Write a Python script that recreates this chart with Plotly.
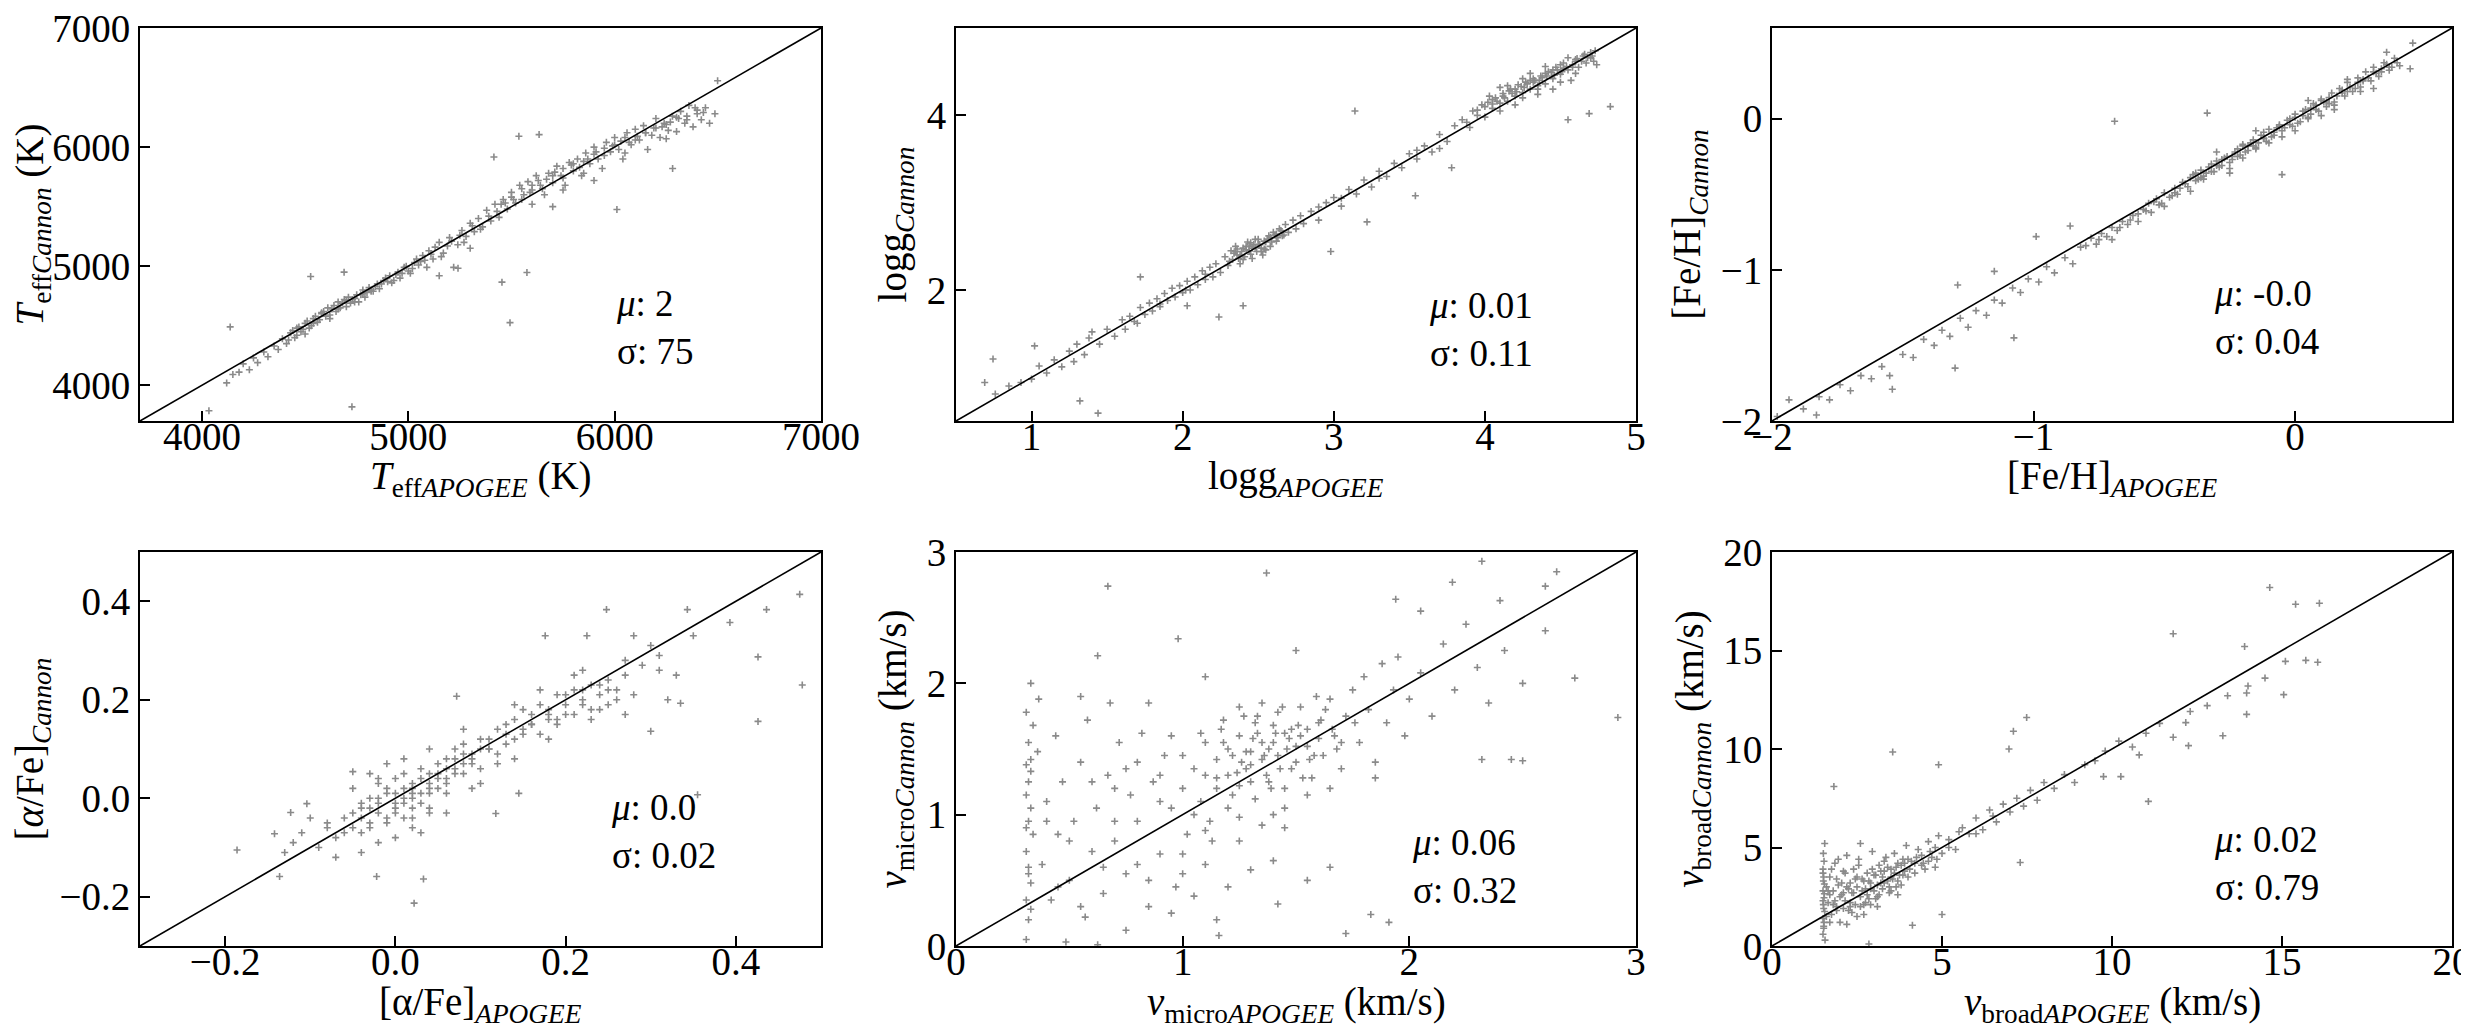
import plotly.graph_objects as go

# ---- data (APOGEE on x, Cannon on y) ----

teff_apogee = [
    4120, 4150, 4180, 4200, 4230, 4250, 4270, 4300, 4320, 4350,
    4370, 4390, 4410, 4430, 4450, 4470, 4480, 4500, 4520, 4540,
    4560, 4580, 4600, 4610, 4630, 4650, 4660, 4680, 4700, 4710,
    4730, 4750, 4760, 4780, 4800, 4810, 4830, 4850, 4860, 4880,
    4900, 4910, 4930, 4950, 4960, 4980, 5000, 5010, 5030, 5050,
    5070, 5090, 5100, 5120, 5150, 5170, 5200, 5220, 5240, 5260,
    5280, 5300, 5320, 5340, 5360, 5380, 5400, 5420, 5440, 5460,
    5480, 5500, 5520, 5540, 5560, 5580, 5600, 5620, 5640, 5660,
    5680, 5700, 5720, 5740, 5760, 5780, 5800, 5820, 5840, 5860,
    5880, 5900, 5920, 5940, 5960, 5980, 6000, 6020, 6040, 6060,
    6080, 6100, 6120, 6140, 6160, 6180, 6200, 6220, 6240, 6260,
    6280, 6300, 6320, 6340, 6360, 6380, 6400, 6420, 6440, 6460,
    4137, 4034, 4727, 5493, 5575, 5454, 4527, 4689, 6011, 5536,
    5634, 5415, 6281, 6486, 6499, 5241, 5150, 5300, 5700, 5900,
    4420, 4440, 4460, 4490, 4510, 4530, 4550, 4570, 4590, 4620,
    4640, 4670, 4690, 4720, 4740, 4770, 4790, 4820, 4840, 4870,
    4890, 4920, 4940, 4970, 4990, 5020, 5040, 5060, 5080, 5110,
    5130, 5160, 5190, 5210, 5250, 5270, 5310, 5350, 5390, 5430,
    5470, 5510, 5550, 5590, 5630, 5670, 5710, 5750, 5790, 5830,
    5870, 5910, 5950, 5990, 6030, 6070, 6110, 6150, 6190, 6230,
    6270, 6310, 6350, 6390, 6430, 5600, 5750, 5850, 6050, 6250,
    4460, 4500, 4540, 4580, 4620, 4660, 4700, 4740, 4780, 4820,
    5450, 5500, 5550, 5600, 5650, 5700, 5750, 5800, 5850, 5900,
    5950, 6000, 6050, 6100, 6150, 6200, 6250, 6300, 6350, 6400,
]
teff_cannon = [
    4020, 4090, 4110, 4180, 4130, 4230, 4190, 4280, 4240, 4330,
    4300, 4390, 4350, 4440, 4400, 4490, 4450, 4520, 4480, 4560,
    4530, 4610, 4580, 4650, 4640, 4620, 4700, 4690, 4660, 4740,
    4720, 4760, 4700, 4800, 4780, 4820, 4790, 4850, 4810, 4880,
    4870, 4920, 4880, 4950, 4900, 4990, 4960, 4940, 5030, 5010,
    5090, 4990, 5130, 5060, 5200, 5110, 5240, 4990, 5180, 5300,
    5250, 5360, 5290, 5400, 5330, 5470, 5380, 5520, 5410, 5560,
    5480, 5620, 5530, 5680, 5600, 5710, 5640, 5760, 5680, 5600,
    5780, 5700, 5840, 5760, 5680, 5870, 5800, 5900, 5760, 5950,
    5860, 6000, 5900, 5820, 6040, 5960, 6080, 5980, 5900, 6120,
    6020, 6150, 6060, 6180, 5980, 6100, 6240, 6080, 6200, 6140,
    6260, 6130, 6300, 6200, 6350, 6170, 6280, 6230, 6330, 6200,
    4490, 3786, 3819, 4526, 4947, 4866, 4913, 4950, 5476, 6091,
    6105, 5917, 5820, 6280, 6557, 4983, 4920, 5150, 5500, 5720,
    4380, 4460, 4420, 4470, 4540, 4500, 4580, 4550, 4620, 4590,
    4670, 4650, 4720, 4690, 4730, 4760, 4740, 4800, 4830, 4850,
    4900, 4860, 4930, 4940, 5000, 4980, 5060, 5040, 5050, 5100,
    5160, 5080, 5170, 5210, 5260, 5200, 5340, 5310, 5420, 5460,
    5530, 5560, 5650, 5620, 5720, 5730, 5790, 5820, 5850, 5830,
    5900, 5960, 5930, 6010, 6050, 6040, 6090, 6120, 6160, 6170,
    6210, 6240, 6260, 6330, 6290, 5520, 5640, 5780, 5950, 6070,
    4480, 4430, 4520, 4600, 4560, 4640, 4710, 4700, 4770, 4790,
    5520, 5580, 5560, 5680, 5650, 5760, 5740, 5860, 5880, 5940,
    5990, 6020, 6080, 6060, 6120, 6160, 6190, 6250, 6230, 6310,
]

logg_apogee = [
    1.40, 1.45, 1.50, 1.55, 1.60, 1.62, 1.65, 1.70, 1.72, 1.75,
    1.78, 1.80, 1.83, 1.85, 1.88, 1.90, 1.93, 1.95, 1.98, 2.00,
    2.03, 2.05, 2.08, 2.10, 2.13, 2.15, 2.18, 2.20, 2.22, 2.25,
    2.28, 2.30, 2.32, 2.33, 2.35, 2.36, 2.38, 2.40, 2.41, 2.43,
    2.44, 2.46, 2.47, 2.49, 2.50, 2.52, 2.53, 2.55, 2.57, 2.58,
    2.60, 2.62, 2.64, 2.66, 2.68, 2.70, 2.73, 2.75, 2.78, 2.80,
    2.85, 2.90, 2.95, 3.00, 3.05, 3.10, 3.15, 3.20, 3.25, 3.30,
    3.35, 3.40, 3.45, 3.50, 3.55, 3.60, 3.65, 3.70, 3.75, 3.80,
    3.85, 3.90, 3.92, 3.95, 3.98, 4.00, 4.02, 4.05, 4.07, 4.10,
    4.12, 4.15, 4.17, 4.20, 4.22, 4.25, 4.27, 4.30, 4.32, 4.35,
    4.37, 4.40, 4.42, 4.45, 4.47, 4.50, 4.52, 4.55, 4.57, 4.60,
    4.62, 4.65, 4.67, 4.70, 4.72, 4.74, 4.45, 4.30, 4.10, 4.55,
    0.69, 0.745, 0.76, 0.93, 1.02, 1.05, 1.32, 1.44, 3.14, 4.83,
    4.69, 4.55, 3.54, 3.78, 3.22, 2.98, 1.72, 2.40, 2.24, 2.03,
    1.10, 1.15, 1.20, 1.25, 1.28, 1.30, 1.35, 1.38, 1.00, 0.85,
    2.31, 2.34, 2.37, 2.39, 2.42, 2.45, 2.48, 2.51, 2.54, 2.56,
    2.59, 2.61, 2.63, 2.65, 2.67, 2.36, 2.44, 2.52, 2.40, 2.48,
    3.95, 4.00, 4.05, 4.08, 4.13, 4.16, 4.21, 4.24, 4.28, 4.33,
    4.36, 4.41, 4.44, 4.48, 4.51, 4.54, 4.58, 4.61, 4.64, 4.68,
    4.71, 4.73, 4.20, 4.35, 4.50, 4.60, 4.40, 4.25, 4.15, 4.03,
    1.68, 1.85, 2.02, 2.15, 2.90, 3.05, 3.30, 3.55, 3.70, 3.88,
    2.35, 2.38, 2.42, 2.46, 2.50, 2.54, 2.58, 2.62, 2.45, 2.55,
    4.05, 4.12, 4.18, 4.26, 4.32, 4.38, 4.46, 4.52, 4.58, 4.66,
    4.10, 4.20, 4.30, 4.40, 4.50, 4.60, 4.70, 4.45, 4.35, 4.25,
]
logg_cannon = [
    1.52, 1.38, 1.55, 1.47, 1.66, 1.55, 1.70, 1.62, 1.80, 1.72,
    1.85, 1.76, 1.90, 1.84, 1.96, 1.88, 2.02, 1.92, 2.05, 1.97,
    2.10, 2.00, 2.15, 2.06, 2.22, 2.12, 2.26, 2.15, 2.30, 2.20,
    2.38, 2.28, 2.45, 2.35, 2.50, 2.40, 2.30, 2.48, 2.38, 2.55,
    2.45, 2.36, 2.52, 2.44, 2.58, 2.48, 2.40, 2.55, 2.62, 2.50,
    2.66, 2.56, 2.70, 2.62, 2.75, 2.66, 2.80, 2.70, 2.85, 2.76,
    2.90, 2.80, 3.00, 3.06, 2.96, 3.15, 3.10, 3.26, 3.18, 3.36,
    3.30, 3.45, 3.40, 3.56, 3.50, 3.65, 3.58, 3.78, 3.70, 3.88,
    3.95, 3.86, 4.05, 4.00, 4.12, 3.98, 4.15, 4.08, 4.20, 4.05,
    4.25, 4.16, 4.30, 4.22, 4.35, 4.26, 4.38, 4.30, 4.42, 4.34,
    4.45, 4.36, 4.50, 4.42, 4.55, 4.47, 4.60, 4.52, 4.40, 4.62,
    4.55, 4.68, 4.60, 4.72, 4.62, 4.58, 4.30, 4.48, 4.32, 4.66,
    0.94, 1.21, 0.81, 0.94, 1.36, 1.13, 0.73, 0.59, 4.05, 4.10,
    4.02, 3.95, 3.08, 3.40, 2.78, 2.44, 2.15, 1.82, 1.69, 1.82,
    1.05, 1.20, 1.12, 1.30, 1.18, 1.38, 1.26, 1.45, 0.98, 0.90,
    2.33, 2.42, 2.36, 2.44, 2.46, 2.41, 2.49, 2.52, 2.47, 2.58,
    2.55, 2.63, 2.60, 2.68, 2.63, 2.47, 2.50, 2.44, 2.35, 2.58,
    4.06, 4.10, 4.13, 4.16, 4.20, 4.28, 4.27, 4.33, 4.36, 4.40,
    4.40, 4.45, 4.49, 4.52, 4.50, 4.56, 4.58, 4.65, 4.62, 4.66,
    4.68, 4.74, 4.12, 4.24, 4.38, 4.48, 4.56, 4.42, 4.34, 4.22,
    1.64, 1.81, 2.00, 2.18, 2.95, 3.05, 3.28, 3.60, 3.62, 3.92,
    2.44, 2.40, 2.50, 2.48, 2.52, 2.56, 2.60, 2.64, 2.54, 2.46,
    4.18, 4.22, 4.25, 4.32, 4.38, 4.43, 4.46, 4.54, 4.55, 4.70,
    4.14, 4.30, 4.40, 4.48, 4.58, 4.64, 4.66, 4.52, 4.30, 4.20,
]

feh_apogee = [
    -1.88, -1.82, -1.78, -1.74, -1.70, -1.66, -1.62, -1.58, -1.55, -1.50,
    -1.46, -1.42, -1.38, -1.35, -1.32, -1.28, -1.25, -1.22, -1.18, -1.15,
    -1.12, -1.08, -1.05, -1.02, -0.98, -0.95, -0.92, -0.88, -0.85, -0.82,
    -0.80, -0.78, -0.76, -0.74, -0.72, -0.70, -0.68, -0.66, -0.64, -0.62,
    -0.60, -0.58, -0.56, -0.55, -0.53, -0.51, -0.50, -0.48, -0.46, -0.45,
    -0.43, -0.41, -0.40, -0.38, -0.36, -0.35, -0.33, -0.31, -0.30, -0.28,
    -0.26, -0.25, -0.23, -0.21, -0.20, -0.18, -0.16, -0.15, -0.13, -0.11,
    -0.10, -0.08, -0.06, -0.05, -0.03, -0.01, 0.00, 0.02, 0.04, 0.05,
    0.07, 0.09, 0.10, 0.12, 0.14, 0.15, 0.17, 0.19, 0.20, 0.22,
    0.24, 0.25, 0.27, 0.29, 0.30, 0.32, 0.34, 0.36, 0.38, 0.40,
    -0.20, -0.10, 0.00, 0.10, -0.30, 0.20, -0.15, 0.05, -0.25, 0.15,
    -0.69, -0.336, -1.075, -1.30, -1.54, -1.83, -1.935, -1.29, -1.15, -0.99,
    -0.86, -0.05, 0.44, 0.45, -1.98, -0.60, -0.50, -0.70, 0.30, 0.35,
    -0.44, -0.39, -0.37, -0.34, -0.32, -0.29, -0.27, -0.24, -0.22, -0.19,
    -0.17, -0.14, -0.12, -0.09, -0.07, -0.04, -0.02, 0.01, 0.03, 0.06,
    0.08, 0.11, 0.13, 0.16, 0.18, 0.21, 0.23, 0.26, 0.28, 0.31,
    0.33, 0.35, 0.37, 0.39, -0.47, -0.52, -0.57, -0.63, -0.67, -0.75,
    -0.35, -0.25, -0.15, -0.05, 0.05, 0.15, 0.25, -0.40, -0.20, 0.10,
    -0.42, -0.36, -0.30, -0.24, -0.18, -0.12, -0.06, 0.00, 0.06, 0.12,
    0.18, 0.24, 0.30, 0.36, -0.32, -0.22, -0.12, -0.02, 0.08, 0.20,
    -0.28, -0.16, -0.08, 0.03, 0.13, 0.26, -0.38, -0.46, -0.54, 0.33,
]
feh_cannon = [
    -1.92, -1.84, -1.86, -1.76, -1.80, -1.70, -1.72, -1.64, -1.70, -1.56,
    -1.58, -1.46, -1.50, -1.40, -1.44, -1.32, -1.38, -1.27, -1.30, -1.20,
    -1.22, -1.12, -1.15, -1.06, -1.08, -0.98, -1.02, -0.92, -0.96, -0.85,
    -0.84, -0.79, -0.83, -0.76, -0.78, -0.72, -0.74, -0.68, -0.70, -0.64,
    -0.63, -0.60, -0.56, -0.62, -0.53, -0.56, -0.49, -0.52, -0.46, -0.50,
    -0.42, -0.45, -0.39, -0.41, -0.34, -0.38, -0.32, -0.35, -0.28, -0.31,
    -0.25, -0.29, -0.22, -0.24, -0.17, -0.21, -0.14, -0.19, -0.11, -0.15,
    -0.07, -0.11, -0.04, -0.08, -0.01, -0.05, 0.03, -0.02, 0.06, 0.01,
    0.10, 0.05, 0.13, 0.08, 0.17, 0.11, 0.20, 0.15, 0.24, 0.18,
    0.27, 0.21, 0.31, 0.25, 0.34, 0.28, 0.37, 0.32, 0.40, 0.35,
    -0.26, -0.16, -0.08, 0.02, -0.22, 0.26, -0.08, 0.12, -0.36, 0.06,
    -0.017, 0.037, -1.45, -1.65, -1.79, -1.96, -1.86, -1.10, -1.01, -0.78,
    -0.71, -0.37, 0.33, 0.50, -1.97, -0.68, -0.58, -0.80, 0.20, 0.44,
    -0.46, -0.37, -0.40, -0.36, -0.30, -0.32, -0.26, -0.27, -0.20, -0.22,
    -0.16, -0.16, -0.09, -0.12, -0.06, -0.06, 0.00, -0.03, 0.05, 0.03,
    0.06, 0.11, 0.10, 0.15, 0.17, 0.21, 0.20, 0.26, 0.27, 0.30,
    0.33, 0.36, 0.34, 0.37, -0.51, -0.57, -0.61, -0.67, -0.72, -0.80,
    -0.40, -0.33, -0.20, -0.12, 0.00, 0.09, 0.18, -0.48, -0.18, 0.12,
    -0.43, -0.39, -0.31, -0.25, -0.18, -0.13, -0.05, 0.01, 0.07, 0.11,
    0.19, 0.24, 0.31, 0.34, -0.35, -0.25, -0.13, -0.04, 0.09, 0.18,
    -0.27, -0.18, -0.09, 0.02, 0.14, 0.25, -0.36, -0.49, -0.55, 0.31,
]

afe_apogee = [
    -0.05, -0.04, -0.04, -0.03, -0.03, -0.02, -0.02, -0.01, -0.01, 0.00,
    0.00, 0.01, 0.01, 0.02, 0.02, 0.03, 0.03, 0.04, 0.04, 0.05,
    0.05, 0.06, 0.06, 0.07, 0.07, 0.08, 0.08, 0.09, 0.10, 0.10,
    -0.06, -0.07, -0.08, -0.02, 0.00, 0.02, -0.03, 0.01, 0.03, -0.01,
    0.11, 0.12, 0.13, 0.14, 0.15, 0.15, 0.16, 0.17, 0.17, 0.18,
    0.19, 0.19, 0.20, 0.21, 0.21, 0.22, 0.23, 0.23, 0.24, 0.25,
    0.25, 0.26, 0.27, 0.28, 0.29, 0.12, 0.14, 0.18, 0.22, 0.27,
    -0.09, -0.11, -0.12, -0.07, 0.06, 0.08, 0.10, -0.04, 0.04, 0.09,
    -0.186, -0.142, -0.136, 0.022, 0.033, -0.022, 0.248, 0.343, 0.475, 0.436,
    0.478, 0.426, 0.426, 0.355, 0.393, 0.335, 0.300, 0.145, 0.118, 0.176,
    0.225, -0.104, -0.123, -0.050, 0.072, 0.31, 0.33, 0.30, 0.28, 0.32,
    -0.05, -0.03, -0.02, 0.00, 0.01, 0.02, 0.04, 0.05, 0.06, 0.08,
    0.09, 0.11, 0.13, 0.15, 0.16, 0.18, 0.20, 0.22, 0.24, 0.26,
    -0.04, -0.01, 0.02, 0.03, 0.07, -0.06, 0.00, 0.04, 0.12, 0.19,
    -0.08, -0.10, -0.13, 0.14, 0.17, 0.21, 0.23, 0.27, 0.31, 0.35,
    -0.04, -0.02, 0.00, 0.02, 0.04, 0.06, 0.08, -0.03, 0.01, 0.05,
    0.03, 0.07, 0.10, 0.14, 0.18, 0.22, 0.25, 0.02, -0.01, 0.09,
    -0.05, -0.02, 0.01, 0.04, 0.06, 0.11, 0.16, 0.20, 0.24, 0.13,
]
afe_cannon = [
    -0.06, -0.02, -0.07, 0.00, -0.05, -0.03, 0.03, -0.04, 0.01, -0.02,
    0.04, -0.01, 0.05, 0.02, -0.04, 0.06, 0.01, 0.03, -0.02, 0.07,
    0.02, 0.08, 0.04, 0.10, 0.05, 0.07, 0.11, 0.09, 0.06, 0.12,
    -0.04, -0.08, -0.05, -0.09, -0.08, -0.06, 0.05, 0.08, -0.07, 0.07,
    0.10, 0.14, 0.11, 0.16, 0.13, 0.18, 0.15, 0.19, 0.13, 0.17,
    0.21, 0.16, 0.19, 0.22, 0.17, 0.20, 0.23, 0.18, 0.21, 0.24,
    0.19, 0.22, 0.25, 0.21, 0.27, 0.07, 0.19, 0.12, 0.26, 0.17,
    -0.10, -0.07, -0.09, -0.12, -0.03, 0.14, 0.03, -0.11, 0.10, 0.02,
    -0.105, -0.072, -0.159, -0.213, -0.164, -0.159, 0.383, 0.383, 0.414, 0.383,
    0.230, 0.156, 0.287, 0.007, 0.357, 0.193, 0.136, 0.010, -0.031, 0.330,
    0.330, -0.011, -0.029, 0.054, 0.207, 0.29, 0.25, 0.31, 0.33, 0.20,
    -0.03, -0.02, 0.00, 0.01, 0.02, 0.00, 0.05, 0.04, 0.06, 0.09,
    0.08, 0.12, 0.13, 0.14, 0.17, 0.18, 0.21, 0.19, 0.23, 0.20,
    -0.01, -0.05, 0.03, -0.01, 0.08, -0.07, -0.03, 0.01, 0.09, 0.15,
    -0.06, -0.04, -0.11, 0.08, 0.22, 0.25, 0.16, 0.28, 0.26, 0.33,
    -0.04, -0.01, -0.01, 0.01, 0.02, 0.03, 0.05, -0.06, 0.00, 0.05,
    0.04, 0.06, 0.10, 0.12, 0.16, 0.22, 0.22, -0.02, 0.02, 0.07,
    0.02, 0.04, -0.04, -0.03, 0.01, 0.10, 0.15, 0.17, 0.18, 0.15,
]

vmicro_apogee = [
    0.31, 0.32, 0.31, 0.33, 0.32, 0.31, 0.34, 0.32, 0.33, 0.31,
    0.32, 0.31, 0.33, 0.32, 0.34, 0.31, 0.33, 0.32, 0.31, 0.33,
    0.38, 0.40, 0.42, 0.45, 0.47, 0.50, 0.52, 0.55, 0.57, 0.60,
    0.62, 0.65, 0.67, 0.70, 0.72, 0.75, 0.77, 0.80, 0.82, 0.85,
    0.87, 0.90, 0.92, 0.95, 0.97, 1.00, 0.36, 0.44, 0.58, 0.68,
    1.02, 1.05, 1.08, 1.10, 1.12, 1.15, 1.17, 1.20, 1.22, 1.25,
    1.27, 1.30, 1.32, 1.35, 1.37, 1.40, 1.42, 1.45, 1.47, 1.50,
    1.52, 1.55, 1.57, 1.60, 1.62, 1.65, 1.67, 1.70, 1.72, 1.75,
    1.28, 1.33, 1.38, 1.43, 1.48, 1.25, 1.18, 1.35, 1.40, 1.30,
    1.78, 1.80, 1.82, 1.85, 1.88, 1.90, 1.93, 1.95, 1.98, 2.00,
    2.05, 2.10, 2.15, 2.20, 2.25, 2.30, 2.35, 2.42, 2.50, 2.60,
    0.95, 1.00, 1.05, 1.10, 1.15, 1.20, 1.30, 1.40, 1.55, 1.65,
    0.67, 1.37, 2.32, 2.65, 2.92, 2.73, 2.45, 2.50, 2.32, 0.98,
    0.625, 0.33, 0.365, 1.72, 1.91, 1.83, 1.42, 1.16, 0.625, 0.485,
    1.94, 2.19, 2.60, 2.40, 0.85, 1.10, 1.50, 2.05, 0.75, 0.55,
    1.15, 1.20, 1.25, 1.30, 1.35, 1.40, 1.45, 1.50, 1.55, 1.60,
    1.22, 1.28, 1.32, 1.38, 1.42, 1.48, 1.52, 1.58, 1.63, 1.68,
    1.05, 1.10, 1.15, 1.00, 0.90, 0.80, 0.70, 0.60, 0.50, 0.40,
    0.45, 0.55, 0.65, 0.75, 0.85, 0.95, 1.25, 1.45, 1.65, 1.85,
    1.20, 1.26, 1.31, 1.36, 1.41, 1.46, 1.51, 1.56, 1.61, 1.66,
    1.10, 1.18, 1.24, 1.33, 1.39, 1.44, 1.53, 1.59, 1.70, 1.76,
    0.90, 1.00, 1.08, 1.13, 0.80, 0.70, 1.45, 1.35, 1.25, 1.55,
]
vmicro_cannon = [
    0.05, 0.20, 0.35, 0.48, 0.60, 0.72, 0.85, 0.95, 1.05, 1.15,
    1.25, 1.38, 1.42, 1.55, 1.68, 1.78, 0.28, 0.55, 0.90, 1.33,
    0.62, 1.10, 0.35, 0.85, 1.25, 0.50, 0.95, 1.40, 0.22, 0.72,
    1.05, 0.40, 1.30, 0.80, 1.55, 0.55, 1.15, 0.95, 1.62, 0.30,
    1.25, 0.70, 1.45, 1.05, 0.45, 1.20, 1.48, 1.60, 1.72, 1.85,
    0.85, 1.35, 1.10, 1.55, 0.95, 1.28, 1.65, 1.05, 1.45, 1.22,
    1.75, 1.38, 1.12, 1.55, 1.30, 1.68, 1.45, 1.20, 1.58, 1.40,
    1.82, 1.52, 1.28, 1.70, 1.45, 1.88, 1.60, 1.35, 1.75, 1.95,
    1.48, 1.62, 1.50, 1.35, 1.65, 0.98, 1.72, 1.85, 1.00, 1.25,
    1.55, 2.05, 1.80, 1.40, 2.15, 1.70, 1.95, 2.20, 1.60, 1.88,
    2.08, 1.75, 2.30, 1.95, 2.45, 2.12, 1.85, 2.25, 2.00, 2.40,
    0.25, 0.55, 0.38, 0.62, 0.20, 0.45, 0.58, 0.65, 0.50, 0.60,
    2.74, 2.84, 2.93, 2.85, 1.74, 2.04, 1.42, 1.41, 1.42, 2.34,
    2.21, 2.00, 1.88, 0.095, 0.18, 0.24, 0.32, 0.08, 0.01, 0.03,
    2.64, 2.77, 2.74, 2.63, 1.85, 2.05, 2.25, 2.55, 0.12, 1.90,
    1.42, 1.30, 1.60, 1.48, 1.42, 1.55, 1.62, 1.52, 1.65, 1.58,
    1.15, 1.35, 1.70, 1.25, 1.78, 1.35, 1.60, 1.45, 1.80, 1.50,
    1.00, 0.88, 1.20, 0.70, 1.10, 0.62, 0.95, 1.25, 0.80, 0.95,
    0.45, 0.30, 0.60, 1.35, 0.50, 1.60, 0.80, 0.90, 1.20, 1.28,
    1.50, 1.40, 1.58, 1.45, 1.62, 1.50, 1.68, 1.42, 1.72, 1.65,
    1.30, 1.55, 1.32, 1.75, 1.20, 1.82, 1.28, 1.90, 1.55, 1.70,
    1.30, 1.45, 1.62, 0.80, 1.40, 1.20, 1.05, 0.92, 1.82, 1.15,
]

vbroad_apogee = [
    1.50, 1.52, 1.50, 1.55, 1.51, 1.53, 1.50, 1.54, 1.52, 1.50,
    1.53, 1.51, 1.55, 1.50, 1.52, 1.54, 1.51, 1.53, 1.50, 1.52,
    1.65, 1.70, 1.75, 1.80, 1.85, 1.90, 1.95, 2.00, 2.05, 2.10,
    2.15, 2.20, 2.25, 2.30, 2.35, 2.40, 2.45, 2.50, 2.55, 2.60,
    2.65, 2.70, 2.75, 2.80, 2.85, 2.90, 2.95, 3.00, 2.20, 2.60,
    3.05, 3.10, 3.15, 3.20, 3.25, 3.30, 3.35, 3.40, 3.45, 3.50,
    3.55, 3.60, 3.65, 3.70, 3.75, 3.80, 3.85, 3.90, 3.95, 4.00,
    4.10, 4.20, 4.30, 4.40, 4.50, 4.60, 4.70, 4.80, 4.90, 5.00,
    5.20, 5.40, 5.60, 5.80, 6.00, 6.20, 6.40, 6.60, 6.80, 7.00,
    7.20, 7.40, 7.60, 7.80, 8.00, 8.30, 8.60, 8.90, 9.20, 9.50,
    9.80, 10.20, 10.60, 11.00, 11.40, 11.80, 12.30, 12.80, 13.40, 14.00,
    14.64, 15.40, 16.10, 11.80, 13.90, 15.70, 16.05, 15.10, 3.55, 4.90,
    1.82, 11.07, 7.30, 5.00, 4.13, 1.56, 2.85, 7.49, 7.10, 6.97,
    9.75, 10.26, 12.25, 12.17, 13.96, 13.26, 13.96, 15.05, 14.50, 10.80,
    1.60, 1.70, 1.80, 1.90, 2.00, 2.10, 2.20, 2.30, 2.40, 2.50,
    2.60, 2.70, 2.80, 2.90, 3.00, 3.10, 3.20, 3.30, 3.40, 3.50,
    3.60, 3.70, 3.80, 3.90, 4.00, 4.20, 4.40, 4.60, 4.80, 1.60,
    1.75, 1.95, 2.15, 2.35, 2.55, 2.75, 2.95, 3.15, 5.50, 6.50,
    1.65, 1.85, 2.05, 2.25, 2.45, 2.65, 2.85, 3.05, 3.25, 3.45,
    3.65, 3.85, 4.05, 4.25, 4.45, 4.65, 4.85, 2.10, 2.70, 3.30,
    1.70, 1.90, 2.30, 2.50, 2.90, 3.10, 3.50, 3.70, 5.20, 6.00,
]
vbroad_cannon = [
    0.60, 1.00, 1.40, 1.75, 2.10, 2.45, 2.80, 3.15, 3.50, 3.90,
    4.30, 4.70, 5.20, 2.30, 1.90, 2.65, 3.30, 1.20, 3.70, 0.90,
    2.20, 3.50, 1.60, 2.80, 4.20, 2.00, 3.10, 1.20, 2.60, 3.80,
    2.30, 4.60, 1.80, 3.20, 2.70, 3.90, 2.10, 3.00, 4.40, 2.50,
    3.40, 1.60, 2.90, 3.70, 2.40, 3.20, 4.80, 2.80, 1.10, 5.20,
    3.60, 2.50, 4.10, 3.20, 2.90, 3.80, 4.50, 3.30, 2.70, 3.90,
    3.40, 4.70, 3.00, 4.20, 3.60, 3.10, 4.40, 3.80, 5.10, 3.50,
    4.30, 3.70, 4.90, 4.10, 3.90, 5.30, 4.50, 4.00, 5.60, 4.70,
    5.40, 4.90, 6.00, 5.70, 6.50, 5.90, 6.90, 6.30, 7.20, 6.80,
    7.50, 7.10, 7.90, 7.40, 8.30, 8.00, 8.70, 8.30, 9.20, 9.40,
    9.90, 10.40, 10.10, 10.80, 11.30, 10.60, 11.90, 12.20, 12.70, 13.20,
    18.20, 17.35, 17.40, 15.85, 15.20, 14.50, 14.40, 14.45, 9.85, 9.20,
    8.10, 7.34, 4.24, 1.60, 1.05, 0.30, 0.10, 11.60, 10.90, 10.00,
    8.60, 8.60, 10.17, 11.34, 11.76, 10.67, 12.84, 12.76, 13.60, 9.70,
    1.50, 2.60, 2.10, 3.40, 2.50, 1.90, 3.00, 2.20, 2.70, 3.50,
    2.00, 3.30, 2.60, 2.90, 3.60, 3.10, 3.80, 3.20, 4.00, 3.50,
    3.70, 3.30, 4.10, 4.20, 4.40, 4.20, 4.60, 4.30, 5.00, 3.00,
    3.90, 4.40, 3.70, 1.70, 4.10, 2.20, 3.90, 2.60, 5.80, 6.60,
    2.80, 2.30, 3.20, 2.90, 3.40, 2.80, 3.30, 2.40, 3.50, 3.00,
    4.00, 3.60, 3.90, 4.50, 4.20, 4.80, 4.40, 2.70, 2.10, 4.30,
    1.20, 1.80, 2.00, 1.50, 2.10, 2.00, 2.80, 2.60, 5.00, 5.70,
]

# axis limits (the 1:1 line runs corner to corner), ticks, fit stats
limits = [[3700, 7000], [0.5, 5], [-2, 0.6], [-0.3, 0.5], [0, 3], [0, 20]]
x_ticks = [[4000, 5000, 6000, 7000], [1, 2, 3, 4, 5], [-2, -1, 0],
           [-0.2, 0.0, 0.2, 0.4], [0, 1, 2, 3], [0, 5, 10, 15, 20]]
y_ticks = [[4000, 5000, 6000, 7000], [2, 4], [-2, -1, 0],
           [-0.2, 0.0, 0.2, 0.4], [0, 1, 2, 3], [0, 5, 10, 15, 20]]
mu_text = ["2", "0.01", "-0.0", "0.0", "0.06", "0.02"]
sigma_text = ["75", "0.11", "0.04", "0.02", "0.32", "0.79"]

x_titles = [
    "<i>T</i><sub>eff<i>APOGEE</i></sub> (K)",
    "logg<sub><i>APOGEE</i></sub>",
    "[Fe/H]<sub><i>APOGEE</i></sub>",
    "[α/Fe]<sub><i>APOGEE</i></sub>",
    "<i>v</i><sub>micro<i>APOGEE</i></sub> (km/s)",
    "<i>v</i><sub>broad<i>APOGEE</i></sub> (km/s)",
]
y_titles = [
    "<i>T</i><sub>eff<i>Cannon</i></sub> (K)",
    "logg<sub><i>Cannon</i></sub>",
    "[Fe/H]<sub><i>Cannon</i></sub>",
    "[<i>α</i>/Fe]<sub><i>Cannon</i></sub>",
    "<i>v</i><sub>micro<i>Cannon</i></sub> (km/s)",
    "<i>v</i><sub>broad<i>Cannon</i></sub> (km/s)",
]

xs = [teff_apogee, logg_apogee, feh_apogee, afe_apogee, vmicro_apogee, vbroad_apogee]
ys = [teff_cannon, logg_cannon, feh_cannon, afe_cannon, vmicro_cannon, vbroad_cannon]

# ---- layout ----
W, H = 2469, 1029
col_px = [(132, 813), (948, 1628), (1764, 2444)]
row_px = [(20, 413), (544, 938)]
# left edge and vertical centre of the mu/sigma block (axis-domain fractions)
stat_pos = [(0.696, 0.238), (0.692, 0.234), (0.647, 0.263),
            (0.689, 0.290), (0.668, 0.201), (0.647, 0.210)]

FONT = "Liberation Serif, Times New Roman, serif"
fig = go.Figure()
annotations = []

for i in range(6):
    r, c = divmod(i, 3)
    n = "" if i == 0 else str(i + 1)
    xa, ya = "x" + n, "y" + n

    fig.add_trace(go.Scatter(
        x=xs[i], y=ys[i], mode="markers", xaxis=xa, yaxis=ya,
        marker=dict(size=5, symbol="cross-thin", color="#8a8a8a",
                    line=dict(width=1.6, color="#8a8a8a")),
        showlegend=False, hoverinfo="skip"))
    fig.add_trace(go.Scatter(
        x=limits[i], y=limits[i], mode="lines", xaxis=xa, yaxis=ya,
        line=dict(color="black", width=1.6), showlegend=False, hoverinfo="skip"))

    x0, x1 = col_px[c]
    t, b = row_px[r]
    fmt = ".1f" if i == 3 else ""
    common = dict(showline=True, linecolor="black", linewidth=2, mirror=True,
                  ticks="inside", ticklen=10, tickwidth=1.5, tickcolor="black",
                  showgrid=False, zeroline=False, tickformat=fmt, automargin=False,
                  ticklabeloverflow="allow",
                  tickfont=dict(family=FONT, size=39, color="black"),
                  range=limits[i])
    fig.layout["xaxis" + n] = dict(
        common, domain=[x0 / W, x1 / W], anchor=ya, tickvals=x_ticks[i],
        ticklabelstandoff=-20)
    fig.layout["yaxis" + n] = dict(
        common, domain=[(H - b) / H, (H - t) / H], anchor=xa, tickvals=y_ticks[i],
        title=dict(text=y_titles[i], font=dict(family=FONT, size=39, color="black"),
                   standoff=8))

    # x title as an annotation so it can sit close under the tick labels
    annotations.append(dict(
        text=x_titles[i], xref=xa + " domain", yref=ya + " domain",
        x=0.5, y=-58 / (b - t), xanchor="center", yanchor="middle",
        showarrow=False, font=dict(family=FONT, size=39, color="black")))

    sx, sy = stat_pos[i]
    annotations.append(dict(
        text=f"<i>μ</i>: {mu_text[i]}<br>σ: {sigma_text[i]}",
        xref=xa + " domain", yref=ya + " domain", x=sx, y=sy,
        xanchor="left", yanchor="middle", align="left", showarrow=False,
        font=dict(family=FONT, size=37, color="black")))

fig.update_layout(
    template="none",
    width=W, height=H, margin=dict(l=0, r=0, t=0, b=0),
    paper_bgcolor="white", plot_bgcolor="white",
    annotations=annotations, font=dict(family=FONT, color="black"))

fig.write_html("out.html")
